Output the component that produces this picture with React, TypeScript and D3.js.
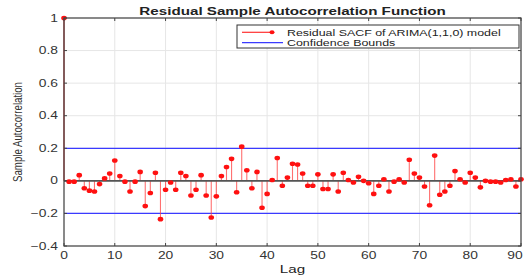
import React from "react";
import * as d3 from "d3";

// Residual sample ACF values, lag 0..90
const acfValues = [
  1, -0.005, -0.005, 0.035, -0.045, -0.06, -0.065, -0.02, 0.015, 0.045,
  0.125, 0.03, -0.005, -0.065, -0.005, 0.055, -0.155, -0.075, 0.05, -0.235,
  -0.055, -0.01, -0.055, 0.05, 0.03, -0.09, -0.055, 0.035, -0.09, -0.225,
  -0.095, 0.03, 0.085, 0.135, -0.07, 0.21, 0.065, -0.045, 0.055, -0.165,
  -0.08, 0.005, 0.14, -0.03, 0.02, 0.105, 0.1, 0.045, -0.03, -0.03,
  0.04, -0.05, -0.05, 0.04, -0.065, 0.05, 0.005, -0.01, 0.025, 0,
  -0.015, -0.08, -0.03, 0.01, -0.065, -0.005, 0.01, -0.01, 0.13, 0.045,
  0.02, -0.035, -0.15, 0.155, -0.085, -0.065, -0.03, 0.06, 0.01, -0.01,
  0.05, 0.02, -0.04, 0, -0.005, -0.005, -0.01, 0.005, 0.01, -0.035, 0.01,
];
const confBounds = [0.2, -0.2];
const xTicks = [0, 10, 20, 30, 40, 50, 60, 70, 80, 90];
const yTicks = [-0.4, -0.2, 0, 0.2, 0.4, 0.6, 0.8, 1];
const legendLabels = ["Residual SACF of ARIMA(1,1,0) model", "Confidence Bounds"];

const W = 524;
const H = 277;
const margin = { top: 18, right: 3, bottom: 31, left: 64 };
const font = "Liberation Sans, Arial, sans-serif";
// the reference picture is horizontally stretched; text glyphs follow that
const SX = 1.38;

// text drawn with the horizontal stretch
function SText({ x, y, anchor = "start", size, weight = "normal", fill = "#333", children }: any) {
  return (
    <g transform={`translate(${x},${y}) scale(${SX},1)`}>
      <text textAnchor={anchor} fontSize={size} fontWeight={weight} fill={fill}>
        {children}
      </text>
    </g>
  );
}

export default function App() {
  const x = d3.scaleLinear().domain([0, 90]).range([margin.left, W - margin.right]);
  const y = d3.scaleLinear().domain([-0.4, 1]).range([H - margin.bottom, margin.top]);
  const [x0, x1] = x.range();
  const [yBot, yTop] = y.range();

  return (
    <svg
      width={W}
      height={H}
      style={{ position: "absolute", left: 0, top: 0, background: "#fff" }}
      fontFamily={font}
    >
      {/* grid */}
      {xTicks.map((t) => (
        <line key={"gx" + t} x1={x(t)} x2={x(t)} y1={yBot} y2={yTop} stroke="#e6e6e6" strokeWidth={1} />
      ))}
      {yTicks.map((t) => (
        <line key={"gy" + t} x1={x0} x2={x1} y1={y(t)} y2={y(t)} stroke="#e6e6e6" strokeWidth={1} />
      ))}

      {/* confidence bounds */}
      {confBounds.map((b) => (
        <line key={"cb" + b} x1={x0} x2={x1} y1={y(b)} y2={y(b)} stroke="#3a3aff" strokeWidth={1.3} />
      ))}

      {/* stems */}
      {acfValues.map((v, i) => (
        <line
          key={"s" + i}
          x1={x(i)}
          x2={x(i)}
          y1={y(0)}
          y2={y(v)}
          stroke={i === 0 ? "#d42020" : "#ff4040"}
          strokeOpacity={i === 0 ? 1 : 0.75}
          strokeWidth={1.1}
        />
      ))}
      {/* zero baseline */}
      <line x1={x0} x2={x1} y1={y(0)} y2={y(0)} stroke="#555" strokeWidth={1.8} />
      {acfValues.map((v, i) => (
        <ellipse key={"m" + i} cx={x(i)} cy={y(v)} rx={2.8} ry={2.3} fill="#ff1010" />
      ))}

      {/* axes box + ticks */}
      <rect x={x0} y={yTop} width={x1 - x0} height={yBot - yTop} fill="none" stroke="#444" strokeWidth={1.2} />
      {xTicks.map((t) => (
        <g key={"tx" + t}>
          <line x1={x(t)} x2={x(t)} y1={yBot} y2={yBot - 3} stroke="#444" />
          <line x1={x(t)} x2={x(t)} y1={yTop} y2={yTop + 3} stroke="#444" />
          <SText x={Math.min(x(t), W - 9)} y={yBot + 13} anchor="middle" size={10}>
            {t}
          </SText>
        </g>
      ))}
      {yTicks.map((t) => (
        <g key={"ty" + t}>
          <line x1={x0} x2={x0 + 3} y1={y(t)} y2={y(t)} stroke="#444" />
          <line x1={x1} x2={x1 - 3} y1={y(t)} y2={y(t)} stroke="#444" />
          <SText x={x0 - 6} y={y(t) + 3.5} anchor="end" size={10}>
            {d3.format("~g")(+t.toFixed(1))}
          </SText>
        </g>
      ))}

      {/* title and labels */}
      <SText x={(x0 + x1) / 2} y={14.5} anchor="middle" size={11} weight="bold" fill="#222">
        Residual Sample Autocorrelation Function
      </SText>
      <SText x={(x0 + x1) / 2} y={H - 4} anchor="middle" size={11} fill="#222">
        Lag
      </SText>
      <g transform={`translate(22,${(yBot + yTop) / 2}) scale(${SX},1) rotate(-90)`}>
        <text textAnchor="middle" fontSize={9.5} fill="#333" textLength={100} lengthAdjust="spacingAndGlyphs">
          Sample Autocorrelation
        </text>
      </g>

      {/* legend */}
      <g transform="translate(237,25)">
        <rect width={282} height={23} fill="#fff" stroke="#333" strokeWidth={1} />
        <line x1={5} x2={35} y1={7.3} y2={7.3} stroke="#ff3030" strokeWidth={1.2} />
        <ellipse cx={35} cy={7.3} rx={2.5} ry={2} fill="#ff1010" />
        <line x1={5} x2={46} y1={17.7} y2={17.7} stroke="#3a3aff" strokeWidth={1.2} />
        <SText x={50} y={10.5} size={9} fill="#222">
          {legendLabels[0]}
        </SText>
        <SText x={50} y={20.5} size={9} fill="#222">
          {legendLabels[1]}
        </SText>
      </g>
    </svg>
  );
}
